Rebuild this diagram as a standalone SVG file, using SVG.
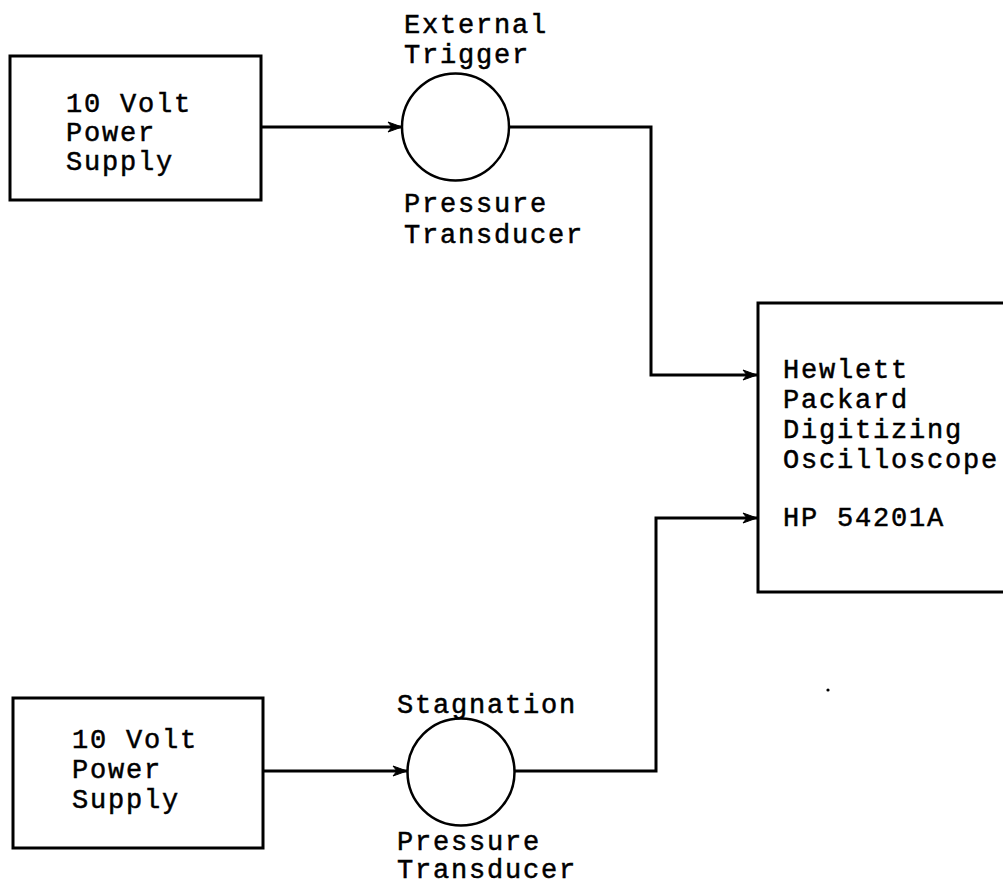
<svg xmlns="http://www.w3.org/2000/svg" width="1003" height="886" viewBox="0 0 1003 886">
  <defs>
    <marker id="arr" viewBox="0 0 16 12" refX="15" refY="6" markerWidth="16" markerHeight="12" markerUnits="userSpaceOnUse" orient="auto">
      <path d="M1,1 L15,6 L1,11 L5,6 z" fill="#000" stroke="#000" stroke-width="1" stroke-linejoin="round"/>
    </marker>
  </defs>
  <style>
    .box { fill: none; stroke: #000; stroke-width: 3; }
    .circ { fill: none; stroke: #000; stroke-width: 2.5; }
    .wire { fill: none; stroke: #000; stroke-width: 3; }
    text { font-family: "Liberation Mono", "Courier New", monospace; font-size: 27px; letter-spacing: 1.8px; fill: #000; stroke: #000; stroke-width: 0.5; }
  </style>
  <rect width="1003" height="886" fill="#fff"/>

  <g id="supply-top">
    <rect class="box" x="10" y="56" width="251" height="144"/>
    <text x="66" y="112">10 Volt</text>
    <text x="66" y="141">Power</text>
    <text x="66" y="170">Supply</text>
  </g>

  <g id="transducer-top">
    <circle class="circ" cx="455.5" cy="127" r="53.5"/>
    <text x="404" y="33">External</text>
    <text x="404" y="63">Trigger</text>
    <text x="404" y="212">Pressure</text>
    <text x="404" y="243">Transducer</text>
  </g>

  <g id="supply-bottom">
    <rect class="box" x="13" y="698" width="250" height="150"/>
    <text x="72" y="748">10 Volt</text>
    <text x="72" y="778">Power</text>
    <text x="72" y="808">Supply</text>
  </g>

  <g id="transducer-bottom">
    <circle class="circ" cx="461" cy="772" r="53.5"/>
    <text x="397" y="713">Stagnation</text>
    <text x="397" y="850">Pressure</text>
    <text x="397" y="878">Transducer</text>
  </g>

  <g id="oscilloscope">
    <rect class="box" x="758" y="303" width="260" height="289"/>
    <text x="783" y="378">Hewlett</text>
    <text x="783" y="408">Packard</text>
    <text x="783" y="438">Digitizing</text>
    <text x="783" y="468">Oscilloscope</text>
    <text x="783" y="526">HP 54201A</text>
  </g>

  <g id="connectors">
    <path class="wire" d="M261,127 L402,127" marker-end="url(#arr)"/>
    <path class="wire" d="M509,127 L651,127 L651,375 L757,375" marker-end="url(#arr)"/>
    <path class="wire" d="M263,771 L407,771" marker-end="url(#arr)"/>
    <path class="wire" d="M515,771 L656,771 L656,518 L757,518" marker-end="url(#arr)"/>
  </g>

  <circle cx="828" cy="690" r="1.6" fill="#000"/>
</svg>
